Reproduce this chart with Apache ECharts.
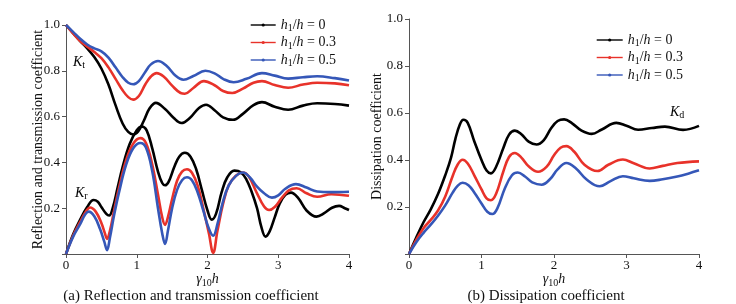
<!DOCTYPE html>
<html>
<head>
<meta charset="utf-8">
<script src="https://cdn.jsdelivr.net/npm/echarts@6/dist/echarts.min.js"></script>
<style>
  html, body { margin: 0; padding: 0; background: #fff; }
  #chart { width: 736px; height: 304px; }
</style>
</head>
<body>
<div id="chart"></div>
<script>
// 曲线数据 [x, y]，x = γ10·h
var ktH0 = [[0,1],[0.1,0.965],[0.2,0.93],[0.3,0.898],[0.4,0.86],[0.5,0.81],[0.6,0.74],[0.7,0.65],[0.8,0.57],[0.88,0.533],[0.95,0.522],[1.02,0.535],[1.1,0.582],[1.18,0.635],[1.27,0.66],[1.4,0.633],[1.52,0.595],[1.63,0.572],[1.75,0.594],[1.88,0.638],[1.98,0.652],[2.1,0.628],[2.22,0.597],[2.36,0.586],[2.5,0.612],[2.65,0.65],[2.77,0.663],[2.95,0.643],[3.14,0.63],[3.35,0.648],[3.55,0.658],[3.8,0.655],[4.0,0.648]];
var ktH3 = [[0,1],[0.1,0.963],[0.2,0.93],[0.3,0.905],[0.4,0.882],[0.5,0.855],[0.6,0.815],[0.7,0.765],[0.8,0.715],[0.88,0.685],[0.95,0.674],[1.03,0.69],[1.12,0.74],[1.2,0.775],[1.28,0.79],[1.38,0.775],[1.5,0.735],[1.62,0.703],[1.68,0.70],[1.8,0.725],[1.95,0.755],[2.1,0.737],[2.22,0.712],[2.35,0.703],[2.5,0.722],[2.65,0.748],[2.77,0.755],[2.95,0.738],[3.14,0.726],[3.35,0.74],[3.55,0.748],[3.8,0.745],[4.0,0.737]];
var ktH5 = [[0,1],[0.1,0.97],[0.2,0.94],[0.3,0.915],[0.4,0.898],[0.5,0.885],[0.6,0.858],[0.7,0.815],[0.8,0.772],[0.88,0.748],[0.95,0.741],[1.03,0.755],[1.12,0.795],[1.2,0.828],[1.3,0.843],[1.42,0.822],[1.55,0.778],[1.66,0.761],[1.8,0.777],[1.97,0.80],[2.1,0.789],[2.22,0.765],[2.37,0.75],[2.55,0.765],[2.77,0.79],[2.95,0.779],[3.14,0.766],[3.35,0.772],[3.55,0.776],[3.8,0.768],[4.0,0.758]];

var krH0 = [[0,0],[0.1,0.085],[0.2,0.15],[0.3,0.205],[0.39,0.236],[0.45,0.228],[0.5,0.205],[0.57,0.175],[0.61,0.168],[0.66,0.2],[0.73,0.29],[0.8,0.38],[0.9,0.48],[1.0,0.54],[1.07,0.557],[1.14,0.54],[1.22,0.46],[1.3,0.36],[1.36,0.31],[1.4,0.30],[1.45,0.315],[1.53,0.38],[1.6,0.425],[1.68,0.442],[1.76,0.425],[1.84,0.37],[1.92,0.28],[2.0,0.19],[2.06,0.15],[2.12,0.175],[2.2,0.27],[2.28,0.335],[2.38,0.364],[2.47,0.357],[2.55,0.325],[2.62,0.275],[2.7,0.20],[2.76,0.12],[2.82,0.076],[2.88,0.1],[2.95,0.16],[3.02,0.22],[3.1,0.258],[3.18,0.268],[3.28,0.245],[3.4,0.19],[3.54,0.163],[3.65,0.178],[3.76,0.202],[3.86,0.21],[3.94,0.2],[4.0,0.192]];
var krH3 = [[0,0],[0.1,0.08],[0.2,0.14],[0.28,0.185],[0.34,0.203],[0.42,0.185],[0.5,0.135],[0.55,0.09],[0.58,0.066],[0.62,0.1],[0.68,0.19],[0.75,0.29],[0.85,0.41],[0.95,0.482],[1.05,0.506],[1.13,0.485],[1.22,0.39],[1.3,0.26],[1.36,0.16],[1.4,0.127],[1.44,0.16],[1.5,0.24],[1.57,0.32],[1.64,0.36],[1.71,0.37],[1.78,0.355],[1.86,0.3],[1.94,0.2],[2.02,0.09],[2.08,0.005],[2.14,0.1],[2.22,0.22],[2.3,0.3],[2.4,0.342],[2.5,0.356],[2.58,0.34],[2.7,0.265],[2.8,0.207],[2.87,0.192],[2.95,0.205],[3.05,0.245],[3.15,0.278],[3.26,0.287],[3.4,0.265],[3.55,0.25],[3.75,0.261],[4.0,0.254]];
var krH5 = [[0,0],[0.1,0.075],[0.2,0.13],[0.27,0.172],[0.32,0.185],[0.4,0.165],[0.48,0.11],[0.54,0.055],[0.58,0.017],[0.62,0.07],[0.68,0.17],[0.75,0.27],[0.85,0.39],[0.95,0.462],[1.05,0.485],[1.13,0.465],[1.22,0.36],[1.3,0.2],[1.36,0.09],[1.4,0.044],[1.44,0.1],[1.5,0.2],[1.57,0.28],[1.64,0.322],[1.71,0.335],[1.78,0.322],[1.86,0.27],[1.94,0.19],[2.02,0.11],[2.08,0.08],[2.14,0.13],[2.22,0.23],[2.3,0.3],[2.4,0.34],[2.5,0.356],[2.6,0.334],[2.7,0.294],[2.8,0.265],[2.91,0.246],[3.0,0.256],[3.1,0.285],[3.25,0.305],[3.4,0.29],[3.55,0.273],[3.75,0.27],[4.0,0.272]];

var kdH0 = [[0,0],[0.1,0.07],[0.2,0.135],[0.3,0.19],[0.4,0.255],[0.5,0.335],[0.58,0.41],[0.64,0.49],[0.7,0.55],[0.75,0.571],[0.81,0.558],[0.9,0.48],[1.0,0.40],[1.07,0.355],[1.13,0.343],[1.2,0.37],[1.3,0.45],[1.38,0.508],[1.46,0.525],[1.55,0.51],[1.65,0.478],[1.76,0.466],[1.86,0.485],[1.96,0.535],[2.05,0.566],[2.14,0.573],[2.25,0.556],[2.38,0.525],[2.52,0.511],[2.66,0.53],[2.86,0.558],[3.0,0.546],[3.16,0.529],[3.35,0.536],[3.53,0.542],[3.78,0.528],[4.0,0.545]];
var kdH3 = [[0,0],[0.1,0.06],[0.2,0.11],[0.3,0.145],[0.4,0.185],[0.5,0.245],[0.6,0.33],[0.67,0.38],[0.74,0.401],[0.81,0.385],[0.9,0.335],[1.0,0.275],[1.07,0.237],[1.13,0.229],[1.2,0.255],[1.3,0.35],[1.38,0.413],[1.46,0.43],[1.55,0.41],[1.65,0.373],[1.78,0.35],[1.9,0.372],[2.0,0.42],[2.09,0.452],[2.17,0.459],[2.28,0.435],[2.42,0.38],[2.6,0.353],[2.75,0.38],[2.95,0.402],[3.1,0.386],[3.32,0.364],[3.5,0.375],[3.7,0.387],[4.0,0.394]];
var kdH5 = [[0,0],[0.1,0.05],[0.2,0.09],[0.3,0.125],[0.4,0.163],[0.5,0.207],[0.6,0.26],[0.67,0.29],[0.74,0.303],[0.82,0.293],[0.9,0.262],[1.0,0.215],[1.08,0.18],[1.15,0.17],[1.22,0.195],[1.32,0.278],[1.42,0.335],[1.5,0.347],[1.6,0.33],[1.7,0.305],[1.83,0.295],[1.95,0.32],[2.05,0.36],[2.17,0.387],[2.3,0.365],[2.45,0.317],[2.63,0.288],[2.78,0.31],[2.95,0.331],[3.1,0.322],[3.32,0.311],[3.5,0.318],[3.7,0.33],[3.85,0.342],[4.0,0.356]];

var seriesNames = ['h0', 'h3', 'h5'];
var ratioLabels = ['0', '0.3', '0.5'];
var colors = ['#000000', '#e8322a', '#3557b8'];

var FONT = '"Liberation Serif", "DejaVu Serif", serif';
var chart = echarts.init(document.getElementById('chart'));

var subRich = {
    i: { fontFamily: FONT, fontStyle: 'italic', fontSize: 14, color: '#111' },
    n: { fontFamily: FONT, fontSize: 14, color: '#111' },
    s: { fontFamily: FONT, fontSize: 10, color: '#111', padding: [7, 0, 0, 0] }
};

function legendFmt(name) {
    var k = seriesNames.indexOf(name);
    return '{i|h}{s|1}{n|/}{i|h}{n| = ' + ratioLabels[k] + '}';
}

function makeAxes(gi, yName, gap) {
    var x = {
        type: 'value', gridIndex: gi, min: 0, max: 4, interval: 1,
        name: '{i|γ}{s|10}{i|h}', nameLocation: 'middle', nameGap: 17,
        nameMoveOverlap: false,
        nameTextStyle: { rich: subRich },
        axisLine: { lineStyle: { color: '#555', width: 1 } },
        axisTick: { length: 4, lineStyle: { color: '#555' } },
        axisLabel: { fontFamily: FONT, fontSize: 13, color: '#111', margin: 5 },
        splitLine: { show: false }
    };
    var y = {
        type: 'value', gridIndex: gi, min: 0, max: 1, interval: 0.2,
        name: yName, nameLocation: 'middle', nameGap: gap,
        nameMoveOverlap: false,
        nameTextStyle: { fontFamily: FONT, fontSize: 14, color: '#111' },
        axisLine: { show: true, lineStyle: { color: '#555', width: 1 } },
        axisTick: { show: true, length: 4, lineStyle: { color: '#555' } },
        axisLabel: {
            fontFamily: FONT, fontSize: 13, color: '#111', margin: 6,
            formatter: function (v) { return v === 0 ? '' : v.toFixed(1); }
        },
        splitLine: { show: false }
    };
    return [x, y];
}

var a1 = makeAxes(0, 'Reflection and transmission coefficient', 21);
var a2 = makeAxes(1, 'Dissipation coefficient', 25);

function line(name, data, k, gi) {
    return {
        type: 'line', name: name, data: data,
        xAxisIndex: gi, yAxisIndex: gi,
        smooth: 0.4,
        symbol: 'circle', symbolSize: 4, showSymbol: false,
        lineStyle: { color: colors[k], width: 2.6 },
        itemStyle: { color: colors[k] },
        emphasis: { disabled: true }
    };
}

function legendAt(left, top, w) {
    return {
        data: seriesNames, orient: 'vertical', left: left, top: top, padding: 0,
        itemWidth: w, itemHeight: 4, itemGap: 2,
        lineStyle: { width: 1.4 },
        formatter: legendFmt, textStyle: { rich: subRich }
    };
}

var option = {
    backgroundColor: '#fff',
    animation: false,
    grid: [
        { left: 66, top: 25, width: 283, height: 229 },
        { left: 409, top: 19, width: 290, height: 235 }
    ],
    xAxis: [a1[0], a2[0]],
    yAxis: [a1[1], a2[1]],
    legend: [legendAt(250, 18, 25), legendAt(596, 33, 26)],
    series: [
        line('h0', ktH0, 0, 0), line('h3', ktH3, 1, 0), line('h5', ktH5, 2, 0),
        line('h0', krH0, 0, 0), line('h3', krH3, 1, 0), line('h5', krH5, 2, 0),
        line('h0', kdH0, 0, 1), line('h3', kdH3, 1, 1), line('h5', kdH5, 2, 1)
    ],
    graphic: [
        { type: 'text', left: 73, top: 55, style: { text: '{i|K}{s|t}', rich: subRich } },
        { type: 'text', left: 75, top: 186, style: { text: '{i|K}{s|r}', rich: subRich } },
        { type: 'text', left: 670, top: 105, style: { text: '{i|K}{s|d}', rich: subRich } },
        { type: 'text', x: 191, y: 296, style: { text: '(a) Reflection and transmission coefficient', font: '15px ' + FONT, fill: '#111', align: 'center', verticalAlign: 'middle' } },
        { type: 'text', x: 546, y: 296, style: { text: '(b) Dissipation coefficient', font: '15px ' + FONT, fill: '#111', align: 'center', verticalAlign: 'middle' } }
    ]
};

chart.setOption(option);
</script>
</body>
</html>
